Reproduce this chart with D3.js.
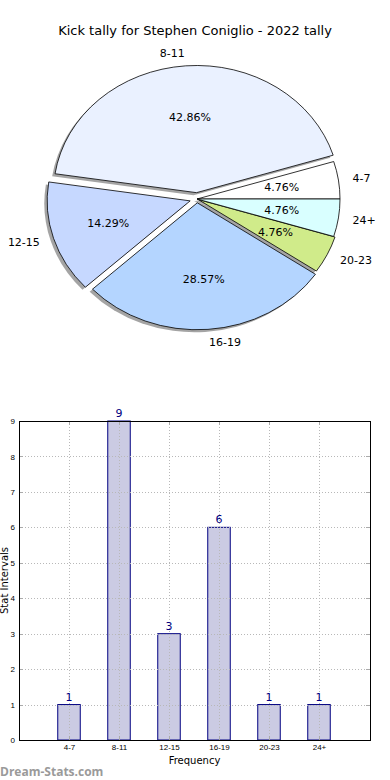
<!DOCTYPE html>
<html>
<head>
<meta charset="utf-8">
<script src="https://cdn.jsdelivr.net/npm/d3@7"></script>
<style>
  body { margin: 0; background: #fff; }
  svg { display: block; font-family: "DejaVu Sans", sans-serif; }
</style>
</head>
<body>
<script>
var w = 390;
var h = 780;

// data
var categories = ["4-7", "8-11", "12-15", "16-19", "20-23", "24+"];
var counts = [1, 9, 3, 6, 1, 1];
var explode = [0, 0.05, 0.05, 0.03, 0.01, 0];
var sliceColors = ["#ffffff", "#eaf1ff", "#c6d8ff", "#b4d5ff", "#d0eb8a", "#d9ffff"];
var yTicks = [0, 1, 2, 3, 4, 5, 6, 7, 8, 9];

var svg = d3.select("body").append("svg").attr("width", w).attr("height", h);

// ---- pie ----
svg.append("text")
    .attr("x", 195).attr("y", 35)
    .attr("text-anchor", "middle")
    .style("font-size", "13px")
    .text("Kick tally for Stephen Coniglio - 2022 tally");

var cx = 197, cy = 199, rx = 143, ry = 127;
var total = d3.sum(counts);

// matplotlib starts at 3 o'clock and runs counter-clockwise
var pie = d3.pie().sort(null).startAngle(Math.PI / 2).endAngle(Math.PI / 2 - 2 * Math.PI);
var arcs = pie(counts);
var arc = d3.arc().innerRadius(0).outerRadius(1);

function offset(d, i) {
    var a = (d.startAngle + d.endAngle) / 2;
    return [cx + explode[i] * rx * Math.sin(a), cy - explode[i] * ry * Math.cos(a)];
}

var shadows = svg.append("g");
shadows.selectAll("path")
    .data(arcs)
    .enter()
    .append("path")
    .attr("transform", function (d, i) {
        var o = offset(d, i);
        return "translate(" + (o[0] - 0.02 * rx) + "," + (o[1] + 0.02 * ry) + ") scale(" + rx + "," + ry + ")";
    })
    .attr("d", arc)
    .attr("fill", "#4a4a4a")
    .attr("fill-opacity", 0.5);

var wedges = svg.append("g");
wedges.selectAll("path")
    .data(arcs)
    .enter()
    .append("path")
    .attr("transform", function (d, i) {
        var o = offset(d, i);
        return "translate(" + o[0] + "," + o[1] + ") scale(" + rx + "," + ry + ")";
    })
    .attr("d", arc)
    .attr("fill", function (d, i) { return sliceColors[i]; })
    .attr("stroke", "#000")
    .attr("stroke-width", 0.8)
    .attr("vector-effect", "non-scaling-stroke");

arcs.forEach(function (d, i) {
    var a = (d.startAngle + d.endAngle) / 2;
    var o = offset(d, i);
    var sx = Math.sin(a), sy = -Math.cos(a);
    svg.append("text")
        .attr("x", o[0] + 1.1 * rx * sx)
        .attr("y", o[1] + 1.1 * ry * sy)
        .attr("dy", "0.35em")
        .attr("text-anchor", sx > 0 ? "start" : "end")
        .style("font-size", "11px")
        .text(categories[i]);
    svg.append("text")
        .attr("x", o[0] + 0.6 * rx * sx)
        .attr("y", o[1] + 0.6 * ry * sy)
        .attr("dy", "0.35em")
        .attr("text-anchor", "middle")
        .style("font-size", "11px")
        .text((counts[i] / total * 100).toFixed(2) + "%");
});

// ---- bars ----
var pLeft = 19, pRight = 370, pTop = 421, pBottom = 740;
var x = d3.scaleLinear().domain([-1, 6.02]).range([pLeft, pRight]);
var y = d3.scaleLinear().domain([0, 9]).range([pBottom, pTop]);
var barW = x(0.45) - x(0);

var bars = svg.append("g");
bars.selectAll("rect")
    .data(counts)
    .enter()
    .append("rect")
    .attr("x", function (d, i) { return x(i) - barW / 2; })
    .attr("y", function (d) { return y(d); })
    .attr("width", barW)
    .attr("height", function (d) { return y(0) - y(d); })
    .attr("fill", "#cbcbe3")
    .attr("stroke", "#000080")
    .attr("stroke-width", 1);

var grid = svg.append("g")
    .attr("stroke", "#b8b8b8")
    .attr("stroke-width", 1)
    .attr("stroke-dasharray", "1,2");
grid.selectAll(".gy")
    .data(yTicks)
    .enter()
    .append("line")
    .attr("x1", pLeft).attr("x2", pRight)
    .attr("y1", function (d) { return Math.round(y(d)) + 0.5; })
    .attr("y2", function (d) { return Math.round(y(d)) + 0.5; });
grid.selectAll(".gx")
    .data(categories)
    .enter()
    .append("line")
    .attr("y1", pTop).attr("y2", pBottom)
    .attr("x1", function (d, i) { return Math.round(x(i)) + 0.5; })
    .attr("x2", function (d, i) { return Math.round(x(i)) + 0.5; });

// inward tick marks, matplotlib classic style
var ticks = svg.append("g").attr("stroke", "#aaa").attr("stroke-width", 1);
yTicks.forEach(function (t) {
    var yy = Math.round(y(t)) + 0.5;
    ticks.append("line").attr("x1", pLeft).attr("x2", pLeft + 4).attr("y1", yy).attr("y2", yy);
    ticks.append("line").attr("x1", pRight - 4).attr("x2", pRight).attr("y1", yy).attr("y2", yy);
});
categories.forEach(function (c, i) {
    var xx = Math.round(x(i)) + 0.5;
    ticks.append("line").attr("x1", xx).attr("x2", xx).attr("y1", pBottom).attr("y2", pBottom - 4);
    ticks.append("line").attr("x1", xx).attr("x2", xx).attr("y1", pTop).attr("y2", pTop + 4);
});

svg.append("rect")
    .attr("x", pLeft + 0.5).attr("y", pTop + 0.5)
    .attr("width", pRight - pLeft).attr("height", pBottom - pTop)
    .attr("fill", "none")
    .attr("stroke", "#000")
    .attr("stroke-width", 1);

var yAxis = svg.append("g").attr("transform", "translate(" + pLeft + ",0)")
    .call(d3.axisLeft(y).tickValues(yTicks).tickSize(0).tickPadding(4));
yAxis.select(".domain").remove();
yAxis.selectAll("text").style("font-size", "8px").attr("font-family", null);

var xAxis = svg.append("g").attr("transform", "translate(0," + pBottom + ")")
    .call(d3.axisBottom(x).tickValues(d3.range(categories.length))
        .tickFormat(function (d) { return categories[d]; })
        .tickSize(0).tickPadding(4));
xAxis.select(".domain").remove();
xAxis.selectAll("text").style("font-size", "8px").attr("font-family", null);

svg.append("g").selectAll("text")
    .data(counts)
    .enter()
    .append("text")
    .attr("x", function (d, i) { return x(i); })
    .attr("y", function (d) { return y(d) - 4; })
    .attr("text-anchor", "middle")
    .attr("fill", "#000080")
    .style("font-size", "11px")
    .text(function (d) { return d; });

svg.append("text")
    .attr("x", (pLeft + pRight) / 2).attr("y", 764)
    .attr("text-anchor", "middle")
    .style("font-size", "10px")
    .text("Frequency");

svg.append("text")
    .attr("transform", "translate(8," + ((pTop + pBottom) / 2) + ") rotate(-90)")
    .attr("text-anchor", "middle")
    .style("font-size", "10px")
    .text("Stat Intervals");

svg.append("text")
    .attr("x", 0).attr("y", 776)
    .attr("fill", "#9a9a9a")
    .style("font-size", "12px")
    .style("font-weight", "bold")
    .style("font-family", "'Open Sans', sans-serif")
    .text("Dream-Stats.com");
</script>
</body>
</html>
